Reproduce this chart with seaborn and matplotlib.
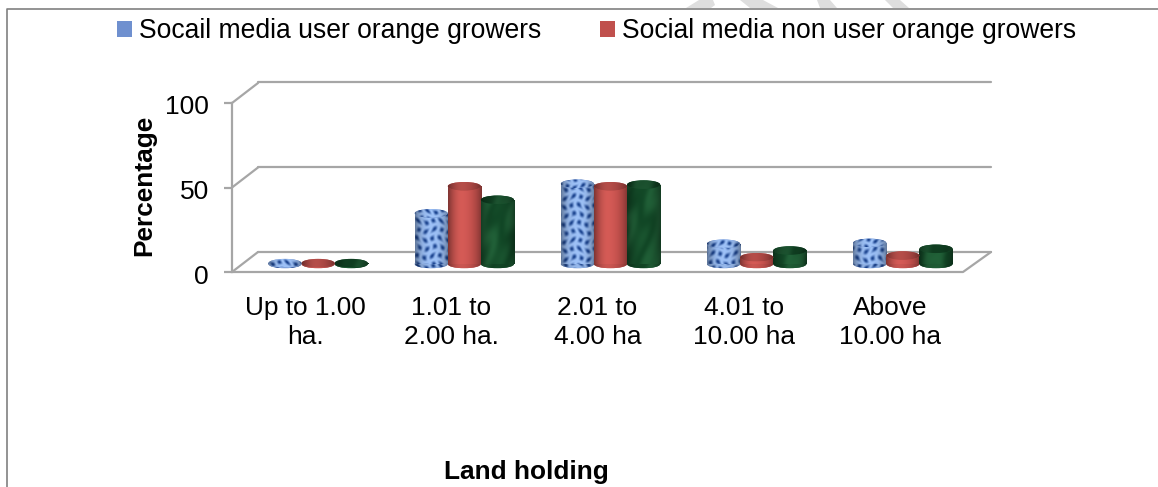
import numpy as np
import pandas as pd
import matplotlib
matplotlib.use("Agg")
import matplotlib.pyplot as plt
from matplotlib.lines import Line2D
from matplotlib.patches import Ellipse, Patch, Polygon
from matplotlib.transforms import ScaledTranslation
import seaborn as sns

land_holding = ["Up to 1.00\nha.", "1.01 to\n2.00 ha.", "2.01 to\n4.00 ha", "4.01 to\n10.00 ha", "Above\n10.00 ha"]
user_growers = [0.5, 30, 47.5, 12, 12.5]
non_user_growers = [0.5, 46, 46, 4, 5]
all_growers = [0.5, 38, 47, 8, 9]
series_names = ["Socail media user orange growers", "Social media non user orange growers", "Total orange growers"]
y_ticks = [0, 50, 100]

W, H = 1158, 487
GREY = "#a6a6a6"
colors = ["#6f90cf", "#c0504d", "#14532d"]
# bits of the page watermark that show above the frame
watermark = [
    [(686, 8), (699, 0), (713, 0), (715, 5), (711, 8)],
    [(740, 0), (763, 0), (778, 8), (750, 8)],
    [(817, 0), (830, 0), (837, 8), (820, 8)],
    [(885, 0), (900, 0), (909, 8), (893, 8)],
]


def add_axes(fig, left, right, y_zero, y_hundred):
    return fig.add_axes([left / W, 1 - y_zero / H, (right - left) / W, (y_zero - y_hundred) / H])


def px_line(fig, xs, ys):
    fig.add_artist(Line2D([x / W for x in xs], [1 - y / H for y in ys], color=GREY, lw=1.6, transform=fig.transFigure))


def texture(kind, w, h, seed=0.0):
    u, v = np.meshgrid(np.linspace(0, 1, w), np.linspace(0, 1, h))
    px, py = u * w + seed * 7, v * h + seed * 3
    shade = 1 - 0.35 * np.abs(2 * u - 1) ** 2.5
    if kind == 0:
        a = (1 + np.sin(px * 0.8 + 1.3 * np.sin(py * 0.3))) / 2
        b = (1 + np.sin(py * 0.72 + 1.2 * np.sin(px * 0.27))) / 2
        dots = 1 - a * b
        low, high = np.array([0.10, 0.26, 0.56]), np.array([0.62, 0.76, 0.97])
    elif kind == 1:
        dots = np.full_like(u, 0.5) + 0.5 * np.exp(-((u - 0.35) / 0.3) ** 2)
        low, high = np.array([0.70, 0.27, 0.26]), np.array([0.84, 0.36, 0.34])
    else:
        dots = 0.5 + 0.5 * np.sin(px * 0.16 + 1.2 * np.sin(py * 0.09) + 0.8 * np.sin(px * 0.3 + py * 0.13))
        low, high = np.array([0.07, 0.28, 0.15]), np.array([0.13, 0.38, 0.22])
    rgb = low + dots[..., None] * (high - low)
    return np.clip(rgb * shade[..., None], 0, 1)


def paint(ax, patch, kind, w, h, factor=1.0, seed=0.0):
    x0, y0, x1, y1 = patch.get_extents().transformed(ax.transData.inverted()).extents
    img = ax.imshow(texture(kind, w, h, seed) * factor, extent=(x0, x1, y0, y1), aspect="auto",
                    interpolation="bilinear", zorder=patch.get_zorder() + 0.01)
    img.set_clip_path(patch)


sns.set_theme(style="white")
plt.rcParams["font.family"] = ["Liberation Sans", "DejaVu Sans"]

fig = plt.figure(figsize=(W / 100, H / 100), dpi=100, facecolor="white")

for band in watermark:
    fig.add_artist(Polygon([(x / W, 1 - y / H) for x, y in band], closed=True, facecolor="#dedede",
                           edgecolor="none", transform=fig.transFigure))

# back wall with the gridlines
wall = add_axes(fig, 258, 991, 252, 82)
wall.set_ylim(0, 100)
wall.axis("off")
for t in y_ticks:
    wall.axhline(t, color=GREY, lw=1.6, clip_on=False)
    y = 272 - t * 1.69
    px_line(fig, [232, 258], [y, y - 20])
px_line(fig, [232, 963, 991], [272, 272, 252])

# front axis holds ticks and category labels
front = add_axes(fig, 232, 963, 272, 103)
front.patch.set_alpha(0)
front.set_xlim(-0.5, 4.5)
front.set_ylim(0, 100)
front.set_yticks(y_ticks)
front.set_xticks(range(len(land_holding)), land_holding)
front.tick_params(axis="y", length=5.5, width=1.6, color=GREY, labelsize=19, pad=11, left=True)
front.tick_params(axis="x", length=0, labelsize=18.9, pad=17)
for side in ["top", "right", "bottom"]:
    front.spines[side].set_visible(False)
front.spines["left"].set_color(GREY)
front.spines["left"].set_linewidth(1.6)
front.set_ylabel("Percentage", fontsize=18.9, fontweight="bold", color="black")
front.yaxis.set_label_coords((156 - 232) / (963 - 232), 0.514)
for lab in front.get_xticklabels():
    lab.set_color("black")
    lab.set_linespacing(1.3)
for lab in front.get_yticklabels():
    lab.set_color("black")
    lab.set_transform(lab.get_transform() + ScaledTranslation(0, -2 / 100, fig.dpi_scale_trans))

# cylinders sit a bit behind the front edge
df = pd.DataFrame({"holding": land_holding, series_names[0]: user_growers,
                   series_names[1]: non_user_growers, series_names[2]: all_growers})
df = df.melt(id_vars="holding", var_name="group", value_name="percent")
bars = add_axes(fig, 245, 976, 264 + 17, 95)
bars.patch.set_alpha(0)
sns.barplot(df, x="holding", y="percent", hue="group", hue_order=series_names, palette=colors,
            width=0.68, gap=0, saturation=1, legend=False, linewidth=0, ax=bars)
bars.set_xlim(-0.5, 4.5)
bars.set_ylim(-17 / 1.69, 100)
bars.axis("off")

cap = 8.5 / 1.69
for kind, container in enumerate(bars.containers):
    for i, bar in enumerate(container):
        x, w, h = bar.get_x(), bar.get_width(), bar.get_height()
        cx = x + w / 2
        bar_w = int(w * 146) + 1
        foot = Ellipse((cx, 0), w, cap, color=colors[kind], lw=0, zorder=2, clip_on=False)
        bars.add_patch(foot)
        paint(bars, foot, kind, bar_w, 9, 0.95, seed=i)
        bar.set_zorder(2.5)
        paint(bars, bar, kind, bar_w, max(int(h * 1.69), 2), seed=i)
        top = Ellipse((cx, h), w, cap, color=colors[kind], lw=0, zorder=3, clip_on=False)
        bars.add_patch(top)
        paint(bars, top, kind, bar_w, 9, 0.85 if kind else 1.0, seed=i + 2)

handles = [Patch(facecolor=colors[0], edgecolor="none"), Patch(facecolor=colors[1], edgecolor="none")]
fig.legend(handles, series_names[:2], ncols=2, loc="center left", bbox_to_anchor=(117 / W, 1 - 31 / H),
           frameon=False, fontsize=19.1, handlelength=0.55, handleheight=0.55, handletextpad=0.27,
           columnspacing=2.23, labelcolor="black", borderpad=0, borderaxespad=0)

fig.text(526 / W, 1 - 472 / H, "Land holding", fontsize=18.9, fontweight="bold", ha="center", va="center", color="black")

# picture frame, cut off at right and bottom
fig.add_artist(Line2D([7.5 / W, 7.5 / W, 1], [0, 1 - 8.5 / H, 1 - 8.5 / H], color="#808080", lw=1.2, transform=fig.transFigure))

plt.savefig("out.png", dpi=100)
